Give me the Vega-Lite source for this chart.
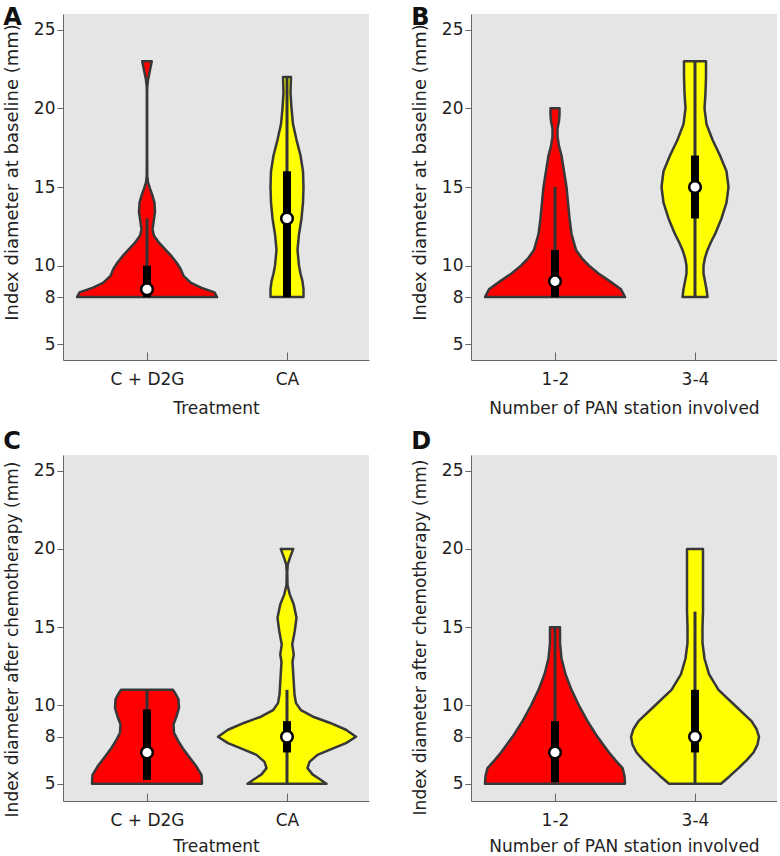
{
  "$schema": "https://vega.github.io/schema/vega-lite/v6.json",
  "padding": {"left": 3, "top": 6, "right": 0, "bottom": 0},
  "background": "white",
  "spacing": 14,
  "config": {
    "view": {"fill": "#e5e5e5", "stroke": null},
    "font": "DejaVu Sans",
    "axis": {"labelFont": "DejaVu Sans", "titleFont": "DejaVu Sans", "labelFontSize": 17, "titleFontSize": 17, "titleFontWeight": "normal", "labelColor": "#222", "titleColor": "#222", "domainColor": "#666", "tickColor": "#666", "grid": false},
    "axisY": {"tickSize": 6, "labelPadding": 2, "titlePadding": 12},
    "axisX": {"tickSize": -8, "labelPadding": 19, "titlePadding": 13, "labelFlush": false},
    "point": {"size": 135, "strokeWidth": 2.5},
    "title": {"font": "DejaVu Sans", "fontSize": 24, "fontWeight": "bold", "color": "#111", "anchor": "start", "frame": "bounds"}
  },
  "vconcat": [
    {
      "spacing": 42,
      "hconcat": [
        {
          "title": {"text": "A", "offset": -16},
          "width": 306, "height": 346,
          "data": {"values": [
            {"g": "C + D2G", "v": 8, "d": 1.40}, {"g": "C + D2G", "v": 8.3, "d": 1.35}, {"g": "C + D2G", "v": 8.6, "d": 1.08}, {"g": "C + D2G", "v": 8.9, "d": 0.88}, {"g": "C + D2G", "v": 9.35, "d": 0.73}, {"g": "C + D2G", "v": 9.8, "d": 0.67}, {"g": "C + D2G", "v": 10.2, "d": 0.59}, {"g": "C + D2G", "v": 10.6, "d": 0.49}, {"g": "C + D2G", "v": 11.05, "d": 0.36}, {"g": "C + D2G", "v": 11.5, "d": 0.23}, {"g": "C + D2G", "v": 11.9, "d": 0.14}, {"g": "C + D2G", "v": 12.3, "d": 0.11}, {"g": "C + D2G", "v": 12.75, "d": 0.13}, {"g": "C + D2G", "v": 13.4, "d": 0.16}, {"g": "C + D2G", "v": 14.0, "d": 0.15}, {"g": "C + D2G", "v": 14.45, "d": 0.11}, {"g": "C + D2G", "v": 14.9, "d": 0.06}, {"g": "C + D2G", "v": 15.3, "d": 0.02}, {"g": "C + D2G", "v": 15.7, "d": 0.005}, {"g": "C + D2G", "v": 17, "d": 0.003}, {"g": "C + D2G", "v": 19, "d": 0.003}, {"g": "C + D2G", "v": 21, "d": 0.003}, {"g": "C + D2G", "v": 21.4, "d": 0.005}, {"g": "C + D2G", "v": 21.8, "d": 0.02}, {"g": "C + D2G", "v": 22.2, "d": 0.045}, {"g": "C + D2G", "v": 22.6, "d": 0.07}, {"g": "C + D2G", "v": 23, "d": 0.095},
            {"g": "CA", "v": 8, "d": 0.33}, {"g": "CA", "v": 8.5, "d": 0.33}, {"g": "CA", "v": 9, "d": 0.31}, {"g": "CA", "v": 9.5, "d": 0.27}, {"g": "CA", "v": 10, "d": 0.24}, {"g": "CA", "v": 11, "d": 0.21}, {"g": "CA", "v": 12, "d": 0.24}, {"g": "CA", "v": 13, "d": 0.29}, {"g": "CA", "v": 14, "d": 0.32}, {"g": "CA", "v": 15, "d": 0.33}, {"g": "CA", "v": 16, "d": 0.32}, {"g": "CA", "v": 17, "d": 0.27}, {"g": "CA", "v": 18, "d": 0.19}, {"g": "CA", "v": 19, "d": 0.12}, {"g": "CA", "v": 20, "d": 0.09}, {"g": "CA", "v": 21, "d": 0.07}, {"g": "CA", "v": 22, "d": 0.08},
            {"g": "C + D2G", "wlo": 8, "whi": 13, "q1": 8, "q3": 10, "med": 8.5},
            {"g": "CA", "wlo": 8, "whi": 22, "q1": 8, "q3": 16, "med": 13}
          ]},
          "layer": [
            {
              "transform": [{"filter": "datum.g == 'C + D2G'"}],
              "layer": [
                {"transform": [{"filter": "isValid(datum.d)"}],
                 "mark": {"type": "area", "orient": "horizontal", "fill": "#ff0000", "stroke": "#383838", "strokeWidth": 2.5, "strokeJoin": "round"},
                 "encoding": {
                   "y": {"field": "v", "type": "quantitative", "scale": {"domain": [4, 26], "nice": false, "zero": false}, "axis": {"values": [5, 8, 10, 15, 20, 25], "title": "Index diameter at baseline (mm)", "titleFontSize": 18, "titleY": 158}},
                   "x": {"field": "d", "type": "quantitative", "stack": "center", "impute": null, "scale": {"domain": [-0.14, 2.92], "nice": false, "zero": false}, "axis": {"values": [0.70, 2.10], "labelExpr": "datum.value < 1.4 ? 'C + D2G' : 'CA'", "title": "Treatment"}}}},
                {"transform": [{"filter": "isValid(datum.med)"}], "mark": {"type": "rule", "color": "#333", "strokeWidth": 3},
                 "encoding": {"x": {"datum": 0.70, "type": "quantitative"}, "y": {"field": "wlo", "type": "quantitative", "scale": {"domain": [4, 26], "nice": false, "zero": false}}, "y2": {"field": "whi"}}},
                {"transform": [{"filter": "isValid(datum.med)"}], "mark": {"type": "rule", "color": "#000", "strokeWidth": 8},
                 "encoding": {"x": {"datum": 0.70, "type": "quantitative"}, "y": {"field": "q1", "type": "quantitative", "scale": {"domain": [4, 26], "nice": false, "zero": false}}, "y2": {"field": "q3"}}},
                {"transform": [{"filter": "isValid(datum.med)"}], "mark": {"type": "point", "filled": true, "fill": "white", "stroke": "black", "opacity": 1},
                 "encoding": {"x": {"datum": 0.70, "type": "quantitative"}, "y": {"field": "med", "type": "quantitative", "scale": {"domain": [4, 26], "nice": false, "zero": false}}}}
              ]
            },
            {
              "transform": [{"filter": "datum.g == 'CA'"}],
              "layer": [
                {"transform": [{"filter": "isValid(datum.d)"}],
                 "mark": {"type": "area", "orient": "horizontal", "fill": "#ffff00", "stroke": "#383838", "strokeWidth": 2.5, "strokeJoin": "round"},
                 "encoding": {
                   "y": {"field": "v", "type": "quantitative", "scale": {"domain": [4, 26], "nice": false, "zero": false}},
                   "x": {"field": "d", "type": "quantitative", "stack": "center", "impute": null, "scale": {"domain": [-2.075, 0.985], "nice": false, "zero": false}, "axis": null}}},
                {"transform": [{"filter": "isValid(datum.med)"}], "mark": {"type": "rule", "color": "#333", "strokeWidth": 3},
                 "encoding": {"x": {"datum": 0.165, "type": "quantitative", "axis": null}, "y": {"field": "wlo", "type": "quantitative", "scale": {"domain": [4, 26], "nice": false, "zero": false}}, "y2": {"field": "whi"}}},
                {"transform": [{"filter": "isValid(datum.med)"}], "mark": {"type": "rule", "color": "#000", "strokeWidth": 8},
                 "encoding": {"x": {"datum": 0.165, "type": "quantitative", "axis": null}, "y": {"field": "q1", "type": "quantitative", "scale": {"domain": [4, 26], "nice": false, "zero": false}}, "y2": {"field": "q3"}}},
                {"transform": [{"filter": "isValid(datum.med)"}], "mark": {"type": "point", "filled": true, "fill": "white", "stroke": "black", "opacity": 1},
                 "encoding": {"x": {"datum": 0.165, "type": "quantitative", "axis": null}, "y": {"field": "med", "type": "quantitative", "scale": {"domain": [4, 26], "nice": false, "zero": false}}}}
              ]
            }
          ],
          "resolve": {"scale": {"x": "independent"}, "axis": {"x": "independent"}}
        },
        {
          "title": {"text": "B", "offset": -16},
          "width": 306, "height": 346,
          "data": {"values": [
            {"g": "1-2", "v": 8, "d": 1.40}, {"g": "1-2", "v": 8.5, "d": 1.32}, {"g": "1-2", "v": 9, "d": 1.10}, {"g": "1-2", "v": 9.5, "d": 0.87}, {"g": "1-2", "v": 10, "d": 0.68}, {"g": "1-2", "v": 10.5, "d": 0.53}, {"g": "1-2", "v": 11, "d": 0.42}, {"g": "1-2", "v": 12, "d": 0.33}, {"g": "1-2", "v": 13, "d": 0.29}, {"g": "1-2", "v": 14, "d": 0.26}, {"g": "1-2", "v": 15, "d": 0.23}, {"g": "1-2", "v": 16, "d": 0.18}, {"g": "1-2", "v": 17, "d": 0.13}, {"g": "1-2", "v": 17.6, "d": 0.08}, {"g": "1-2", "v": 18.2, "d": 0.05}, {"g": "1-2", "v": 18.7, "d": 0.05}, {"g": "1-2", "v": 19.2, "d": 0.08}, {"g": "1-2", "v": 19.6, "d": 0.09}, {"g": "1-2", "v": 20, "d": 0.09},
            {"g": "3-4", "v": 8, "d": 0.25}, {"g": "3-4", "v": 8.5, "d": 0.23}, {"g": "3-4", "v": 9, "d": 0.20}, {"g": "3-4", "v": 9.5, "d": 0.17}, {"g": "3-4", "v": 10, "d": 0.17}, {"g": "3-4", "v": 10.5, "d": 0.20}, {"g": "3-4", "v": 11, "d": 0.25}, {"g": "3-4", "v": 11.5, "d": 0.32}, {"g": "3-4", "v": 12, "d": 0.40}, {"g": "3-4", "v": 13, "d": 0.53}, {"g": "3-4", "v": 14, "d": 0.63}, {"g": "3-4", "v": 15, "d": 0.67}, {"g": "3-4", "v": 16, "d": 0.63}, {"g": "3-4", "v": 17, "d": 0.50}, {"g": "3-4", "v": 18, "d": 0.35}, {"g": "3-4", "v": 19, "d": 0.23}, {"g": "3-4", "v": 20, "d": 0.19}, {"g": "3-4", "v": 21, "d": 0.21}, {"g": "3-4", "v": 22, "d": 0.22}, {"g": "3-4", "v": 23, "d": 0.22},
            {"g": "1-2", "wlo": 8, "whi": 15, "q1": 8, "q3": 11, "med": 9},
            {"g": "3-4", "wlo": 8, "whi": 23, "q1": 13, "q3": 17, "med": 15}
          ]},
          "layer": [
            {
              "transform": [{"filter": "datum.g == '1-2'"}],
              "layer": [
                {"transform": [{"filter": "isValid(datum.d)"}],
                 "mark": {"type": "area", "orient": "horizontal", "fill": "#ff0000", "stroke": "#383838", "strokeWidth": 2.5, "strokeJoin": "round"},
                 "encoding": {
                   "y": {"field": "v", "type": "quantitative", "scale": {"domain": [4, 26], "nice": false, "zero": false}, "axis": {"values": [5, 8, 10, 15, 20, 25], "title": "Index diameter at baseline (mm)", "titleFontSize": 18, "titleY": 158}},
                   "x": {"field": "d", "type": "quantitative", "stack": "center", "impute": null, "scale": {"domain": [-0.14, 2.92], "nice": false, "zero": false}, "axis": {"values": [0.70, 2.10], "labelExpr": "datum.value < 1.4 ? '1-2' : '3-4'", "title": "Number of PAN station involved"}}}},
                {"transform": [{"filter": "isValid(datum.med)"}], "mark": {"type": "rule", "color": "#333", "strokeWidth": 3},
                 "encoding": {"x": {"datum": 0.70, "type": "quantitative"}, "y": {"field": "wlo", "type": "quantitative", "scale": {"domain": [4, 26], "nice": false, "zero": false}}, "y2": {"field": "whi"}}},
                {"transform": [{"filter": "isValid(datum.med)"}], "mark": {"type": "rule", "color": "#000", "strokeWidth": 8},
                 "encoding": {"x": {"datum": 0.70, "type": "quantitative"}, "y": {"field": "q1", "type": "quantitative", "scale": {"domain": [4, 26], "nice": false, "zero": false}}, "y2": {"field": "q3"}}},
                {"transform": [{"filter": "isValid(datum.med)"}], "mark": {"type": "point", "filled": true, "fill": "white", "stroke": "black", "opacity": 1},
                 "encoding": {"x": {"datum": 0.70, "type": "quantitative"}, "y": {"field": "med", "type": "quantitative", "scale": {"domain": [4, 26], "nice": false, "zero": false}}}}
              ]
            },
            {
              "transform": [{"filter": "datum.g == '3-4'"}],
              "layer": [
                {"transform": [{"filter": "isValid(datum.d)"}],
                 "mark": {"type": "area", "orient": "horizontal", "fill": "#ffff00", "stroke": "#383838", "strokeWidth": 2.5, "strokeJoin": "round"},
                 "encoding": {
                   "y": {"field": "v", "type": "quantitative", "scale": {"domain": [4, 26], "nice": false, "zero": false}},
                   "x": {"field": "d", "type": "quantitative", "stack": "center", "impute": null, "scale": {"domain": [-1.905, 1.155], "nice": false, "zero": false}, "axis": null}}},
                {"transform": [{"filter": "isValid(datum.med)"}], "mark": {"type": "rule", "color": "#333", "strokeWidth": 3},
                 "encoding": {"x": {"datum": 0.335, "type": "quantitative", "axis": null}, "y": {"field": "wlo", "type": "quantitative", "scale": {"domain": [4, 26], "nice": false, "zero": false}}, "y2": {"field": "whi"}}},
                {"transform": [{"filter": "isValid(datum.med)"}], "mark": {"type": "rule", "color": "#000", "strokeWidth": 8},
                 "encoding": {"x": {"datum": 0.335, "type": "quantitative", "axis": null}, "y": {"field": "q1", "type": "quantitative", "scale": {"domain": [4, 26], "nice": false, "zero": false}}, "y2": {"field": "q3"}}},
                {"transform": [{"filter": "isValid(datum.med)"}], "mark": {"type": "point", "filled": true, "fill": "white", "stroke": "black", "opacity": 1},
                 "encoding": {"x": {"datum": 0.335, "type": "quantitative", "axis": null}, "y": {"field": "med", "type": "quantitative", "scale": {"domain": [4, 26], "nice": false, "zero": false}}}}
              ]
            }
          ],
          "resolve": {"scale": {"x": "independent"}, "axis": {"x": "independent"}}
        }
      ]
    },
    {
      "spacing": 42,
      "hconcat": [
        {
          "title": {"text": "C", "offset": 1},
          "width": 306, "height": 346,
          "data": {"values": [
            {"g": "C + D2G", "v": 5, "d": 1.10}, {"g": "C + D2G", "v": 5.57, "d": 1.09}, {"g": "C + D2G", "v": 6.1, "d": 0.99}, {"g": "C + D2G", "v": 6.65, "d": 0.86}, {"g": "C + D2G", "v": 7.2, "d": 0.73}, {"g": "C + D2G", "v": 7.7, "d": 0.63}, {"g": "C + D2G", "v": 8.25, "d": 0.54}, {"g": "C + D2G", "v": 8.8, "d": 0.53}, {"g": "C + D2G", "v": 9.3, "d": 0.59}, {"g": "C + D2G", "v": 9.85, "d": 0.64}, {"g": "C + D2G", "v": 10.4, "d": 0.63}, {"g": "C + D2G", "v": 10.8, "d": 0.56}, {"g": "C + D2G", "v": 11, "d": 0.52},
            {"g": "CA", "v": 5, "d": 0.79}, {"g": "CA", "v": 5.3, "d": 0.65}, {"g": "CA", "v": 5.6, "d": 0.51}, {"g": "CA", "v": 6.0, "d": 0.41}, {"g": "CA", "v": 6.4, "d": 0.45}, {"g": "CA", "v": 6.85, "d": 0.61}, {"g": "CA", "v": 7.25, "d": 0.91}, {"g": "CA", "v": 7.6, "d": 1.18}, {"g": "CA", "v": 8.0, "d": 1.38}, {"g": "CA", "v": 8.45, "d": 1.18}, {"g": "CA", "v": 8.9, "d": 0.85}, {"g": "CA", "v": 9.3, "d": 0.51}, {"g": "CA", "v": 9.7, "d": 0.28}, {"g": "CA", "v": 10.15, "d": 0.18}, {"g": "CA", "v": 10.7, "d": 0.15}, {"g": "CA", "v": 11.75, "d": 0.13}, {"g": "CA", "v": 12.8, "d": 0.11}, {"g": "CA", "v": 13.25, "d": 0.135}, {"g": "CA", "v": 13.9, "d": 0.105}, {"g": "CA", "v": 14.75, "d": 0.155}, {"g": "CA", "v": 15.6, "d": 0.19}, {"g": "CA", "v": 16.45, "d": 0.135}, {"g": "CA", "v": 17.1, "d": 0.055}, {"g": "CA", "v": 17.7, "d": 0.01}, {"g": "CA", "v": 18.55, "d": 0.005}, {"g": "CA", "v": 19.0, "d": 0.015}, {"g": "CA", "v": 19.4, "d": 0.055}, {"g": "CA", "v": 20, "d": 0.125},
            {"g": "C + D2G", "wlo": 5.25, "whi": 11, "q1": 5.25, "q3": 9.75, "med": 7},
            {"g": "CA", "wlo": 5, "whi": 11, "q1": 7, "q3": 9, "med": 8}
          ]},
          "layer": [
            {
              "transform": [{"filter": "datum.g == 'C + D2G'"}],
              "layer": [
                {"transform": [{"filter": "isValid(datum.d)"}],
                 "mark": {"type": "area", "orient": "horizontal", "fill": "#ff0000", "stroke": "#383838", "strokeWidth": 2.5, "strokeJoin": "round"},
                 "encoding": {
                   "y": {"field": "v", "type": "quantitative", "scale": {"domain": [3.9, 26], "nice": false, "zero": false}, "axis": {"values": [5, 8, 10, 15, 20, 25], "title": "Index diameter after chemotherapy (mm)", "titleY": 184}},
                   "x": {"field": "d", "type": "quantitative", "stack": "center", "impute": null, "scale": {"domain": [-0.29, 2.77], "nice": false, "zero": false}, "axis": {"values": [0.55, 1.95], "labelExpr": "datum.value < 1.2 ? 'C + D2G' : 'CA'", "title": "Treatment", "titlePadding": 10}}}},
                {"transform": [{"filter": "isValid(datum.med)"}], "mark": {"type": "rule", "color": "#333", "strokeWidth": 3},
                 "encoding": {"x": {"datum": 0.55, "type": "quantitative"}, "y": {"field": "wlo", "type": "quantitative", "scale": {"domain": [3.9, 26], "nice": false, "zero": false}}, "y2": {"field": "whi"}}},
                {"transform": [{"filter": "isValid(datum.med)"}], "mark": {"type": "rule", "color": "#000", "strokeWidth": 8},
                 "encoding": {"x": {"datum": 0.55, "type": "quantitative"}, "y": {"field": "q1", "type": "quantitative", "scale": {"domain": [3.9, 26], "nice": false, "zero": false}}, "y2": {"field": "q3"}}},
                {"transform": [{"filter": "isValid(datum.med)"}], "mark": {"type": "point", "filled": true, "fill": "white", "stroke": "black", "opacity": 1},
                 "encoding": {"x": {"datum": 0.55, "type": "quantitative"}, "y": {"field": "med", "type": "quantitative", "scale": {"domain": [3.9, 26], "nice": false, "zero": false}}}}
              ]
            },
            {
              "transform": [{"filter": "datum.g == 'CA'"}],
              "layer": [
                {"transform": [{"filter": "isValid(datum.d)"}],
                 "mark": {"type": "area", "orient": "horizontal", "fill": "#ffff00", "stroke": "#383838", "strokeWidth": 2.5, "strokeJoin": "round"},
                 "encoding": {
                   "y": {"field": "v", "type": "quantitative", "scale": {"domain": [3.9, 26], "nice": false, "zero": false}},
                   "x": {"field": "d", "type": "quantitative", "stack": "center", "impute": null, "scale": {"domain": [-1.55, 1.51], "nice": false, "zero": false}, "axis": null}}},
                {"transform": [{"filter": "isValid(datum.med)"}], "mark": {"type": "rule", "color": "#333", "strokeWidth": 3},
                 "encoding": {"x": {"datum": 0.69, "type": "quantitative", "axis": null}, "y": {"field": "wlo", "type": "quantitative", "scale": {"domain": [3.9, 26], "nice": false, "zero": false}}, "y2": {"field": "whi"}}},
                {"transform": [{"filter": "isValid(datum.med)"}], "mark": {"type": "rule", "color": "#000", "strokeWidth": 8},
                 "encoding": {"x": {"datum": 0.69, "type": "quantitative", "axis": null}, "y": {"field": "q1", "type": "quantitative", "scale": {"domain": [3.9, 26], "nice": false, "zero": false}}, "y2": {"field": "q3"}}},
                {"transform": [{"filter": "isValid(datum.med)"}], "mark": {"type": "point", "filled": true, "fill": "white", "stroke": "black", "opacity": 1},
                 "encoding": {"x": {"datum": 0.69, "type": "quantitative", "axis": null}, "y": {"field": "med", "type": "quantitative", "scale": {"domain": [3.9, 26], "nice": false, "zero": false}}}}
              ]
            }
          ],
          "resolve": {"scale": {"x": "independent"}, "axis": {"x": "independent"}}
        },
        {
          "title": {"text": "D", "offset": 1},
          "width": 306, "height": 346,
          "data": {"values": [
            {"g": "1-2", "v": 5, "d": 1.40}, {"g": "1-2", "v": 5.5, "d": 1.39}, {"g": "1-2", "v": 6, "d": 1.35}, {"g": "1-2", "v": 6.5, "d": 1.21}, {"g": "1-2", "v": 7, "d": 1.08}, {"g": "1-2", "v": 8, "d": 0.85}, {"g": "1-2", "v": 9, "d": 0.65}, {"g": "1-2", "v": 10, "d": 0.48}, {"g": "1-2", "v": 11, "d": 0.33}, {"g": "1-2", "v": 12, "d": 0.21}, {"g": "1-2", "v": 13, "d": 0.13}, {"g": "1-2", "v": 14, "d": 0.10}, {"g": "1-2", "v": 15, "d": 0.10},
            {"g": "3-4", "v": 5, "d": 0.52}, {"g": "3-4", "v": 5.5, "d": 0.70}, {"g": "3-4", "v": 6, "d": 0.87}, {"g": "3-4", "v": 6.5, "d": 1.03}, {"g": "3-4", "v": 7, "d": 1.17}, {"g": "3-4", "v": 7.5, "d": 1.25}, {"g": "3-4", "v": 8, "d": 1.28}, {"g": "3-4", "v": 8.5, "d": 1.23}, {"g": "3-4", "v": 9, "d": 1.13}, {"g": "3-4", "v": 10, "d": 0.80}, {"g": "3-4", "v": 11, "d": 0.47}, {"g": "3-4", "v": 12, "d": 0.28}, {"g": "3-4", "v": 13, "d": 0.19}, {"g": "3-4", "v": 14, "d": 0.15}, {"g": "3-4", "v": 15, "d": 0.15}, {"g": "3-4", "v": 16, "d": 0.16}, {"g": "3-4", "v": 17, "d": 0.16}, {"g": "3-4", "v": 18, "d": 0.16}, {"g": "3-4", "v": 19, "d": 0.16}, {"g": "3-4", "v": 20, "d": 0.16},
            {"g": "1-2", "wlo": 5, "whi": 15, "q1": 5.1, "q3": 9, "med": 7},
            {"g": "3-4", "wlo": 5, "whi": 16, "q1": 7, "q3": 11, "med": 8}
          ]},
          "layer": [
            {
              "transform": [{"filter": "datum.g == '1-2'"}],
              "layer": [
                {"transform": [{"filter": "isValid(datum.d)"}],
                 "mark": {"type": "area", "orient": "horizontal", "fill": "#ff0000", "stroke": "#383838", "strokeWidth": 2.5, "strokeJoin": "round"},
                 "encoding": {
                   "y": {"field": "v", "type": "quantitative", "scale": {"domain": [3.9, 26], "nice": false, "zero": false}, "axis": {"values": [5, 8, 10, 15, 20, 25], "title": "Index diameter after chemotherapy (mm)", "titleY": 182}},
                   "x": {"field": "d", "type": "quantitative", "stack": "center", "impute": null, "scale": {"domain": [-0.14, 2.92], "nice": false, "zero": false}, "axis": {"values": [0.70, 2.10], "labelExpr": "datum.value < 1.4 ? '1-2' : '3-4'", "title": "Number of PAN station involved", "titlePadding": 10}}}},
                {"transform": [{"filter": "isValid(datum.med)"}], "mark": {"type": "rule", "color": "#333", "strokeWidth": 3},
                 "encoding": {"x": {"datum": 0.70, "type": "quantitative"}, "y": {"field": "wlo", "type": "quantitative", "scale": {"domain": [3.9, 26], "nice": false, "zero": false}}, "y2": {"field": "whi"}}},
                {"transform": [{"filter": "isValid(datum.med)"}], "mark": {"type": "rule", "color": "#000", "strokeWidth": 8},
                 "encoding": {"x": {"datum": 0.70, "type": "quantitative"}, "y": {"field": "q1", "type": "quantitative", "scale": {"domain": [3.9, 26], "nice": false, "zero": false}}, "y2": {"field": "q3"}}},
                {"transform": [{"filter": "isValid(datum.med)"}], "mark": {"type": "point", "filled": true, "fill": "white", "stroke": "black", "opacity": 1},
                 "encoding": {"x": {"datum": 0.70, "type": "quantitative"}, "y": {"field": "med", "type": "quantitative", "scale": {"domain": [3.9, 26], "nice": false, "zero": false}}}}
              ]
            },
            {
              "transform": [{"filter": "datum.g == '3-4'"}],
              "layer": [
                {"transform": [{"filter": "isValid(datum.d)"}],
                 "mark": {"type": "area", "orient": "horizontal", "fill": "#ffff00", "stroke": "#383838", "strokeWidth": 2.5, "strokeJoin": "round"},
                 "encoding": {
                   "y": {"field": "v", "type": "quantitative", "scale": {"domain": [3.9, 26], "nice": false, "zero": false}},
                   "x": {"field": "d", "type": "quantitative", "stack": "center", "impute": null, "scale": {"domain": [-1.60, 1.46], "nice": false, "zero": false}, "axis": null}}},
                {"transform": [{"filter": "isValid(datum.med)"}], "mark": {"type": "rule", "color": "#333", "strokeWidth": 3},
                 "encoding": {"x": {"datum": 0.64, "type": "quantitative", "axis": null}, "y": {"field": "wlo", "type": "quantitative", "scale": {"domain": [3.9, 26], "nice": false, "zero": false}}, "y2": {"field": "whi"}}},
                {"transform": [{"filter": "isValid(datum.med)"}], "mark": {"type": "rule", "color": "#000", "strokeWidth": 8},
                 "encoding": {"x": {"datum": 0.64, "type": "quantitative", "axis": null}, "y": {"field": "q1", "type": "quantitative", "scale": {"domain": [3.9, 26], "nice": false, "zero": false}}, "y2": {"field": "q3"}}},
                {"transform": [{"filter": "isValid(datum.med)"}], "mark": {"type": "point", "filled": true, "fill": "white", "stroke": "black", "opacity": 1},
                 "encoding": {"x": {"datum": 0.64, "type": "quantitative", "axis": null}, "y": {"field": "med", "type": "quantitative", "scale": {"domain": [3.9, 26], "nice": false, "zero": false}}}}
              ]
            }
          ],
          "resolve": {"scale": {"x": "independent"}, "axis": {"x": "independent"}}
        }
      ]
    }
  ]
}
